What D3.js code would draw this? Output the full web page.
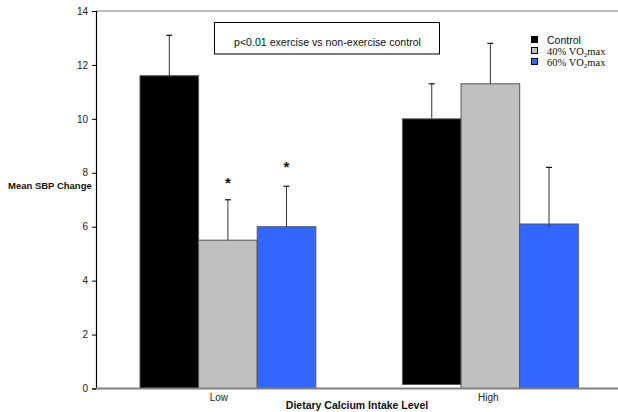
<!DOCTYPE html>
<html>
<head>
<meta charset="utf-8">
<script src="https://cdn.jsdelivr.net/npm/d3@7/dist/d3.min.js"></script>
<style>
  body { margin: 0; background: #fff; }
  svg { display: block; font-family: Arial, "Liberation Sans", sans-serif; }
</style>
</head>
<body>
<div id="chart"></div>
<script>
// ========================================
// DATA
// ========================================
const levels = ['Low', 'High'];
const groups = ['Control', '40% VO2max', '60% VO2max'];
const meanChange = [
    [11.6, 5.5, 6.0],   // Low
    [10.0, 11.3, 6.1]   // High
];
const errorTop = [
    [13.1, 7.0, 7.5],
    [11.3, 12.8, 8.2]
];
// bar bottoms as plotted (High control sits a bit off the axis)
const barBase = [
    [0, 0, 0],
    [0.15, 0, 0]
];
const starAt = [
    [null, 7.7, 8.3],
    [null, null, null]
];
const yTicks = [0, 2, 4, 6, 8, 10, 12, 14];
const groupColors = ['#000000', '#c0c0c0', '#3366ff'];
const noteText = 'p<0.01 exercise vs non-exercise control';

// ========================================
// SETUP
// ========================================
const width = 618, height = 412;
const plotLeft = 96, plotRight = 618, plotTop = 11, plotBottom = 388.5;

const svg = d3.select('#chart').append('svg')
    .attr('width', width).attr('height', height);

const y = d3.scaleLinear().domain([0, 14]).range([plotBottom, plotTop]);

const x = d3.scaleBand().domain(levels)
    .range([plotLeft, 622.3])
    .paddingInner(0.33)
    .paddingOuter(0.1676);

const xInner = d3.scaleBand().domain(groups)
    .range([0, x.bandwidth()]).padding(0);

// Top frame line
svg.append('line')
    .attr('x1', plotLeft).attr('x2', plotRight)
    .attr('y1', plotTop).attr('y2', plotTop)
    .attr('stroke', '#808080').attr('stroke-width', 1);

// Y axis
const yAxis = svg.append('g')
    .attr('transform', `translate(${plotLeft},0)`)
    .call(d3.axisLeft(y).tickValues(yTicks).tickSize(4).tickPadding(4));
yAxis.select('.domain').attr('stroke', '#000').attr('stroke-width', 1.2);
yAxis.selectAll('.tick line').attr('stroke', '#000');
yAxis.selectAll('.tick text')
    .attr('font-size', '10px').attr('fill', '#222')
    .attr('font-family', 'Arial, "Liberation Sans", sans-serif');

// Bars
levels.forEach((lvl, i) => {
    const g = svg.append('g').attr('transform', `translate(${x(lvl)},0)`);

    g.selectAll('rect')
        .data(groups).enter()
        .append('rect')
        .attr('x', d => xInner(d))
        .attr('width', xInner.bandwidth())
        .attr('y', (d, j) => y(meanChange[i][j]))
        .attr('height', (d, j) => y(barBase[i][j]) - y(meanChange[i][j]))
        .attr('fill', (d, j) => groupColors[j])
        .attr('stroke', '#555')
        .attr('stroke-width', 1);

    // Error bars (upper only)
    groups.forEach((grp, j) => {
        const cx = xInner(grp) + xInner.bandwidth() / 2;
        g.append('line')
            .attr('x1', cx).attr('x2', cx)
            .attr('y1', y(meanChange[i][j]) + (j === 2 && i === 1 ? 3 : 0))
            .attr('y2', y(errorTop[i][j]))
            .attr('stroke', '#333').attr('stroke-width', 1);
        g.append('line')
            .attr('x1', cx - 3).attr('x2', cx + 3)
            .attr('y1', y(errorTop[i][j])).attr('y2', y(errorTop[i][j]))
            .attr('stroke', '#111').attr('stroke-width', 1.2);

        if (starAt[i][j] != null) {
            g.append('text')
                .attr('x', cx).attr('y', y(starAt[i][j]) + 7)
                .attr('text-anchor', 'middle')
                .attr('font-size', '15px').attr('font-weight', 'bold').attr('fill', '#111')
                .text('*');
        }
    });
});

// X axis line (gray)
svg.append('line')
    .attr('x1', plotLeft).attr('x2', plotRight)
    .attr('y1', plotBottom).attr('y2', plotBottom)
    .attr('stroke', '#808080').attr('stroke-width', 2);

// X category labels
svg.selectAll('.xlab')
    .data(levels).enter()
    .append('text')
    .attr('x', (d, i) => x(d) + x.bandwidth() / 2 + (i === 0 ? -9 : -2))
    .attr('y', 401)
    .attr('text-anchor', 'middle')
    .attr('font-size', '10px').attr('fill', '#222')
    .text(d => d);

// Axis titles
svg.append('text')
    .attr('x', 357).attr('y', 409)
    .attr('text-anchor', 'middle')
    .attr('font-size', '10.5px').attr('font-weight', 'bold').attr('fill', '#111')
    .text('Dietary Calcium Intake Level');

svg.append('text')
    .attr('x', 8).attr('y', 189)
    .attr('font-size', '9.5px').attr('font-weight', 'bold').attr('fill', '#111')
    .text('Mean SBP Change');

// Note box
svg.append('rect')
    .attr('x', 214.5).attr('y', 22.5)
    .attr('width', 225).attr('height', 31.5)
    .attr('fill', '#fff').attr('stroke', '#000').attr('stroke-width', 1);
svg.append('text')
    .attr('x', 327.5).attr('y', 46)
    .attr('text-anchor', 'middle')
    .attr('font-size', '10.6px').attr('fill', '#111')
    .text(noteText);

// Legend
const legend = svg.append('g').attr('transform', 'translate(531,36)');
groups.forEach((grp, j) => {
    const row = legend.append('g').attr('transform', `translate(0,${j * 11})`);
    row.append('rect')
        .attr('x', 0.5).attr('y', 0.5).attr('width', 6).attr('height', 6)
        .attr('fill', groupColors[j]).attr('stroke', '#000').attr('stroke-width', 1);
    const t = row.append('text')
        .attr('x', 16).attr('y', 8)
        .attr('fill', '#111');
    if (j === 0) {
        t.attr('font-size', '10.5px').text(grp);
    } else {
        const [pct, rest] = grp.split(' ');
        t.attr('font-family', '"Liberation Serif", "Times New Roman", serif')
            .attr('font-size', '10.5px');
        t.append('tspan').text(pct + ' VO');
        t.append('tspan').attr('font-size', '7px').attr('dy', 2).text('2');
        t.append('tspan').attr('dy', -2).text(rest.replace('VO2', ''));
    }
});
</script>
</body>
</html>
